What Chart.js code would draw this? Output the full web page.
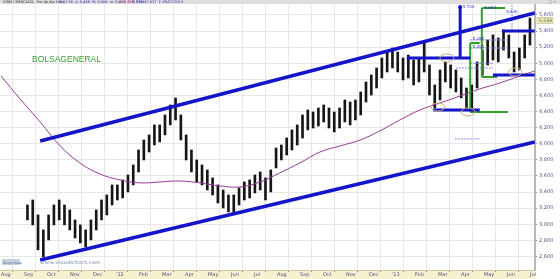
<!DOCTYPE html>
<html><head><meta charset="utf-8">
<script src="https://cdn.jsdelivr.net/npm/chart.js@4/dist/chart.umd.min.js"></script>
<style>html,body{margin:0;padding:0;background:#fff;overflow:hidden}#wrap{width:560px;height:279px;position:relative}</style>
</head><body><div id="wrap"><canvas id="c" width="560" height="279"></canvas></div>
<script>
// ---- data ----
const monthLabels = ['Aug','Sep','Oct','Nov','Dec',"'12",'Feb','Mar','Apr','May','Jun','Jul','Aug','Sep','Oct','Nov','Dec',"'13",'Feb','Mar','Apr','May','Jun','Jul'];
const WEEKS_PER_MONTH = 4.348;
const yTicks = [2600,2800,3000,3200,3400,3600,3800,4000,4200,4400,4600,4800,5000,5200,5400,5600];
const firstWeek = 5;
const highs = [3240,3302,3116,2930,3116,3240,3302,3240,3178,3054,2992,2930,3054,3178,3302,3364,3489,3489,3551,3613,3737,3923,4047,4110,4234,4234,4358,4482,4569,4358,4110,3923,3799,3737,3675,3576,3489,3426,3364,3364,3451,3526,3551,3613,3650,3576,3675,3948,3985,4072,4172,4234,4358,4420,4395,4445,4482,4445,4395,4445,4544,4519,4544,4644,4768,4855,4942,5066,5140,5190,5140,5066,5103,5041,5066,5252,4979,4731,4917,5016,4979,4917,4818,4693,4731,5016,5165,5290,5352,5314,5414,5352,5140,5190,5352,5563];
const lows  = [3054,2992,2682,2594,2806,2992,3054,2992,2930,2830,2768,2719,2806,2930,3054,3116,3240,3302,3327,3402,3489,3650,3799,3898,3985,4023,4110,4234,4296,4047,3799,3650,3526,3489,3426,3364,3265,3203,3153,3141,3240,3302,3327,3389,3426,3302,3402,3700,3799,3861,3923,3985,4072,4172,4196,4221,4271,4196,4147,4196,4271,4234,4296,4358,4519,4606,4693,4818,4892,4942,4892,4793,4818,4731,4768,4892,4606,4445,4544,4768,4693,4644,4569,4420,4395,4693,4855,4979,5041,5016,5165,5066,4892,4917,5066,5227];
const lastClose = 5533;
const maWeeks  = [0,3.6,7.4,11.2,14.9,18.7,22.5,26.3,30.1,33.8,37.6,41.4,45.2,49,52.7,56.5,60.3,64.1,67.9,71.6,75.4,79.2,83,86.8,90.5,94.3,98.1,100.9];
const maValues = [4842,4557,4271,3973,3762,3625,3551,3514,3526,3538,3514,3476,3464,3526,3638,3762,3898,3973,4047,4159,4296,4420,4507,4594,4681,4755,4843,4904];
const upperChannel = [[7.4,4035],[100.9,5625]];
const lowerChannel = [[7.4,2557],[100.9,4022]];
const blueLevels = [
  [[76.7,5066],[88.7,5066]],
  [[86.8,5700],[86.8,5066]],
  [[81.7,4420],[90.5,4420]],
  [[93.0,4855],[100.9,4855]],
  [[94.7,5401],[100.9,5401]]
];
const greenLevels = [
  [[88.7,5252],[88.7,4395]],[[88.7,5252],[90.5,5252]],[[88.7,4395],[95.8,4395]],
  [[90.9,5687],[90.9,4830]],[[90.9,5687],[95.3,5687]],[[90.9,4830],[93.8,4830]]
];
const thinLevels = [
  [[88.7,5290],[95.8,5290]],[[88.7,5190],[95.8,5190]],[[88.7,5000],[93.0,5000]],
  [[86.0,4942],[93.0,4942]],[[85.8,4060],[90.5,4060]],[[96.6,5724],[96.6,5380]]
];
const levelTexts  = ['5,704','5,682','5,640','5,282','5,203'];
const levelWeeks  = [87.3,91.4,95.5,89.2,89.2];
const levelValues = [5700,5690,5640,5300,5200];
const ovalWeeks  = [84.3,82.6,88.3,97.2];
const ovalValues = [5066,4457,4395,4892];

// ---- chart ----
const seg = (pts)=>pts.map(p=>({x:p[0],y:p[1]}));
const BLUE='#1414c8', GREEN='#2e9e2e';
const datasets = [];
datasets.push({type:'bar',data:highs.map((h,i)=>({x:firstWeek+i,y:[lows[i],h]})),backgroundColor:'#161616',borderWidth:0,barThickness:2,order:10});
datasets.push({type:'line',data:maWeeks.map((w,i)=>({x:w,y:maValues[i]})),borderColor:'#9a3a9a',borderWidth:1,pointRadius:0,tension:0.4,order:6});
[upperChannel,lowerChannel].forEach(c=>datasets.push({type:'line',data:seg(c),borderColor:BLUE,borderWidth:3.5,pointRadius:0,order:1}));
blueLevels.forEach(c=>datasets.push({type:'line',data:seg(c),borderColor:BLUE,borderWidth:3,pointRadius:0,order:1}));
greenLevels.forEach(c=>datasets.push({type:'line',data:seg(c),borderColor:GREEN,borderWidth:2,pointRadius:0,order:2}));
thinLevels.forEach(c=>datasets.push({type:'line',data:seg(c),borderColor:'#8a8ae6',borderWidth:1,borderDash:[2,1],pointRadius:0,order:3}));

const deco = {
  id:'deco',
  beforeDraw(chart){
    const ctx=chart.ctx; ctx.save();
    ctx.fillStyle='#fff'; ctx.fillRect(0,0,560,279);
    ctx.fillStyle='#f6f1cf'; ctx.fillRect(0,270,535,9);
    ctx.restore();
  },
  afterDatasetsDraw(chart){
    const ctx=chart.ctx, xs=chart.scales.x, ys=chart.scales.y; ctx.save();
    ctx.strokeStyle='#c9b27a'; ctx.lineWidth=1;
    ovalWeeks.forEach((w,i)=>{ctx.beginPath();ctx.ellipse(xs.getPixelForValue(w),ys.getPixelForValue(ovalValues[i]),7,4,0,0,Math.PI*2);ctx.stroke();});
    ctx.fillStyle=BLUE; ctx.beginPath(); ctx.arc(xs.getPixelForValue(blueLevels[1][0][0]),ys.getPixelForValue(blueLevels[1][0][1]),2,0,Math.PI*2); ctx.fill();
    ctx.font='4px "DejaVu Sans"'; ctx.fillStyle='#3434c0'; ctx.textBaseline='middle';
    levelTexts.forEach((t,i)=>ctx.fillText(t,xs.getPixelForValue(levelWeeks[i]),ys.getPixelForValue(levelValues[i])));
    ctx.font='8.5px "Liberation Sans"'; ctx.fillStyle='#3aa03a'; ctx.textBaseline='alphabetic';
    ctx.fillText('BOLSAGENERAL',32,62);
    ctx.fillStyle='#c6d2e0'; ctx.fillRect(2,259,18,6);
    ctx.font='3px "DejaVu Sans"'; ctx.fillStyle='#5a6a88'; ctx.fillText('Grupo Visual',3,263.5);
    ctx.font='bold 5px "DejaVu Sans"'; ctx.fillStyle='#a9b6ca'; ctx.fillText('www.visualchart.com',40,264);
    ctx.restore();
  },
  afterDraw(chart){
    const ctx=chart.ctx, ys=chart.scales.y; ctx.save();
    ctx.fillStyle='#dedede'; ctx.fillRect(0,0,560,4);
    ctx.font='3.5px "DejaVu Sans"'; ctx.textBaseline='middle';
    ctx.fillStyle='#333'; ctx.fillText('IGBM / MERCADO - Pro de día 1 día',3,2);
    ctx.fillStyle='#2a2ab0'; ctx.fillText('H: 17:35  A: 5,468  M: 5,566  m: 5,450  C: 5,533',58,2);
    ctx.fillStyle='#d03030'; ctx.fillText('V: -0,761',118,2);
    ctx.fillStyle='#2a2ab0'; ctx.fillText('V: 13,997,617  F: 05/07/2013',132,2);
    ctx.fillStyle='#666'; ctx.fillText('_ □ ×',546,2);
    const py=ys.getPixelForValue(lastClose);
    ctx.fillStyle='#efeeb4'; ctx.fillRect(537,py-3,16,6);
    ctx.strokeStyle='#a8a67a'; ctx.lineWidth=0.5; ctx.strokeRect(537,py-3,16,6);
    ctx.font='4.5px "DejaVu Sans"'; ctx.fillStyle='#444'; ctx.fillText(lastClose.toLocaleString('en-US'),539,py);
    ctx.restore();
  }
};

new Chart(document.getElementById('c'),{
  type:'bar',
  data:{datasets},
  options:{
    responsive:false, animation:false, devicePixelRatio:1,
    layout:{padding:{top:5,left:0,right:0,bottom:0}},
    plugins:{legend:{display:false},tooltip:{enabled:false}},
    scales:{
      x:{type:'linear',min:-0.19,max:100.95,offset:false,
        afterFit(s){s.height=9;},
        afterBuildTicks(s){s.ticks=monthLabels.map((l,i)=>({value:i*WEEKS_PER_MONTH}));},
        ticks:{autoSkip:false,maxRotation:0,align:'start',padding:0,font:{size:5,family:'DejaVu Sans'},color:'#50508a',callback:(v,i)=>monthLabels[i]},
        grid:{color:'#e7e7e7',lineWidth:1,tickLength:2,tickColor:'#8a8a8a'},
        border:{display:true,color:'#cfc7a0',width:1}},
      y:{position:'right',min:2432,max:5724,
        afterFit(s){s.width=25;},
        afterBuildTicks(s){s.ticks=yTicks.map(v=>({value:v}));},
        ticks:{padding:2,font:{size:5,family:'DejaVu Sans'},color:'#50508a',callback:v=>v.toLocaleString('en-US')},
        grid:{color:'#e7e7e7',lineWidth:1,tickLength:2,tickColor:'#8a8a8a'},
        border:{display:true,color:'#b9b9b9',width:2}}
    }
  },
  plugins:[deco]
});
</script></body></html>
